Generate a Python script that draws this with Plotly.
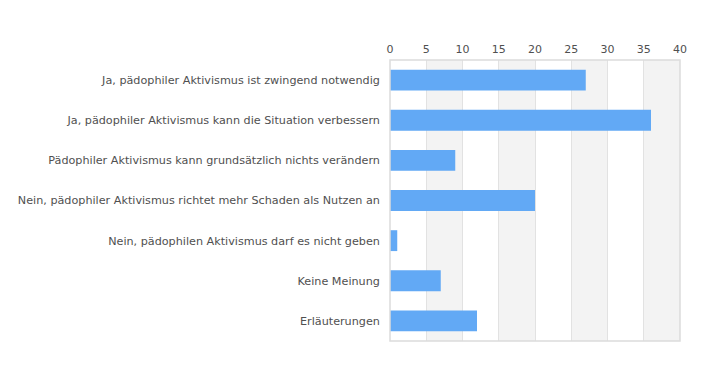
import plotly.graph_objects as go

categories = [
    "Ja, pädophiler Aktivismus ist zwingend notwendig",
    "Ja, pädophiler Aktivismus kann die Situation verbessern",
    "Pädophiler Aktivismus kann grundsätzlich nichts verändern",
    "Nein, pädophiler Aktivismus richtet mehr Schaden als Nutzen an",
    "Nein, pädophilen Aktivismus darf es nicht geben",
    "Keine Meinung",
    "Erläuterungen",
]
values = [27, 36, 9, 20, 1, 7, 12]
tick_vals = [0, 5, 10, 15, 20, 25, 30, 35, 40]

fig = go.Figure(go.Bar(
    x=values, y=categories, orientation="h",
    marker=dict(color="#62a9f5", line=dict(width=0)),
    width=0.52, hoverinfo="x+y",
))

shapes = []
for i in range(len(tick_vals) - 1):
    if i % 2 == 1:
        shapes.append(dict(type="rect", xref="x", yref="paper",
                           x0=tick_vals[i], x1=tick_vals[i + 1], y0=0, y1=1,
                           fillcolor="#f3f3f3", line=dict(width=0), layer="below"))
shapes.append(dict(type="rect", xref="paper", yref="paper", x0=0, x1=1, y0=0, y1=1,
                   line=dict(color="#dcdcdc", width=1.5), fillcolor="rgba(0,0,0,0)"))

fig.update_layout(
    width=710, height=370,
    margin=dict(l=382, r=38, t=52, b=37),
    paper_bgcolor="white", plot_bgcolor="white",
    font=dict(family="DejaVu Sans", size=11.2, color="#505050"),
    shapes=shapes,
    showlegend=False,
    xaxis=dict(side="top", range=[0, 40], tickvals=tick_vals, showgrid=True,
               gridcolor="#e2e2e2", gridwidth=1, zeroline=False, showline=False,
               automargin=False, ticklabelstandoff=4,
               ticks="", tickfont=dict(size=11, color="#505050")),
    yaxis=dict(autorange="reversed", showgrid=False, zeroline=False, showline=False,
               automargin=False, ticklabelstandoff=2,
               ticks="", ticksuffix="  ", tickfont=dict(size=11.2, color="#505050")),
)

fig.write_html("out.html")
